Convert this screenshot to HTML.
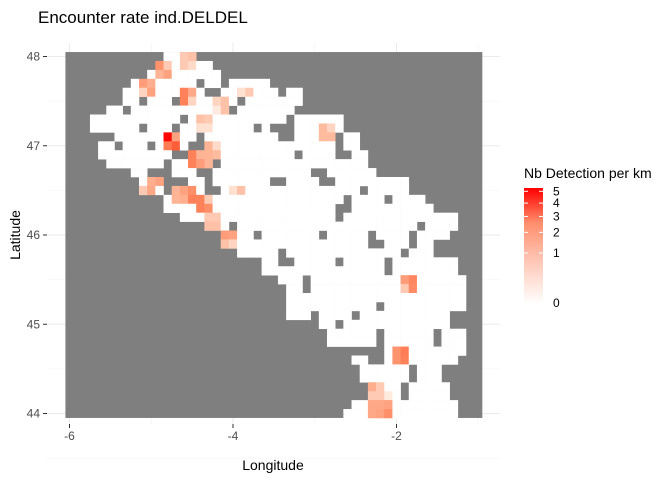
<!DOCTYPE html>
<html><head><meta charset="utf-8"><style>
body{margin:0;background:#fff;font-family:"Liberation Sans",sans-serif;}
</style></head><body>
<svg id="chart" width="672" height="480" xmlns="http://www.w3.org/2000/svg">
<text x="38" y="23" font-size="17" fill="#000">Encounter rate ind.DELDEL</text>
<g id="grid"></g>
<g id="cells"></g>
<g id="axes"></g>
<text x="273" y="470" font-size="14" text-anchor="middle">Longitude</text>
<text x="20" y="235" font-size="14" text-anchor="middle" transform="rotate(-90 20 235)">Latitude</text>
<g id="legend">
<text x="524" y="178" font-size="14">Nb Detection per km</text>
<defs><linearGradient id="lg" x1="0" y1="1" x2="0" y2="0">
<stop offset="0" stop-color="#fff"/><stop offset="0.4" stop-color="#ffc2b0"/><stop offset="0.7" stop-color="#ff8e6c"/><stop offset="1" stop-color="#ff0000"/></linearGradient></defs>
<rect x="524" y="188" width="19" height="116" fill="url(#lg)"/>
</g>
</svg>
<script>
// grid: cols lon = -6 + 0.1*c, rows lat = 48 - 0.1*r
const rowSpans=[[12,15],[11,17],[10,18],[8,24],[7,28],[7,28],[5,27],[3,33],[3,33],[6,35],[4,35],[4,36],[5,36],[8,37],[9,41],[9,41],[12,43],[12,44],[14,47],[17,47],[19,46],[19,44],[21,44],[24,47],[24,47],[26,48],[27,48],[27,48],[27,48],[27,46],[31,46],[32,48],[32,48],[39,48],[35,47],[36,45],[36,45],[37,46],[37,46],[35,47],[34,47]];
const holes={3:[16,19],4:[17,18,26],5:[9,13,21],6:[7,20],7:[14,27],8:[9,13,23,25,26,27],9:[16,26,27,33],10:[6,10,15,16,33],11:[13,14,28,33,34],12:[12,18],13:[10,11,12,16,17,30,31],14:[12,13,14,17,25,26,31,32],15:[12,17,18,36],16:[34,39],17:[33,34],18:[33],19:[20,43],20:[23,31,37,42],21:[37,38,42],22:[26,41],23:[26,27,33,39],24:[39],25:[29],26:[29],28:[38],29:[30,35],30:[33],31:[38,45],32:[38,45],34:[37,38],35:[42],36:[42],37:[41],38:[41]};
const detections=[[0,14,0.3],[0,15,0.4],[1,11,1.2],[1,12,0.3],[1,14,0.3],[1,15,0.15],[2,11,0.6],[2,12,0.9],[3,9,1.0],[3,10,0.7],[4,9,0.2],[4,10,0.9],[4,14,1.6],[4,15,0.8],[4,21,0.1],[4,22,0.3],[5,14,1.6],[5,15,0.2],[5,18,0.2],[5,19,0.4],[6,18,0.05],[6,19,0.4],[7,16,0.4],[7,17,0.3],[8,16,0.1],[8,17,0.1],[9,12,5.2],[9,13,0.9],[10,12,1.8],[10,13,2.5],[10,17,0.6],[10,18,0.15],[11,15,1.6],[11,16,0.6],[11,17,0.6],[11,18,0.5],[12,15,1.6],[12,16,1.0],[12,17,0.6],[14,10,0.7],[14,11,0.9],[15,9,0.3],[15,10,0.8],[15,13,0.6],[15,14,0.9],[15,15,1.3],[15,20,0.1],[15,21,0.4],[16,13,0.6],[16,14,0.7],[16,15,1.6],[16,16,1.6],[16,17,0.3],[17,16,1.6],[17,17,1.3],[18,17,0.3],[18,18,0.3],[19,17,0.4],[19,18,0.4],[20,19,1.0],[20,20,0.9],[21,19,0.4],[21,20,0.2],[8,31,0.5],[8,32,0.2],[9,31,0.5],[9,32,0.5],[25,41,1.0],[25,42,1.5],[26,41,0.3],[26,42,1.4],[33,40,1.2],[33,41,1.7],[34,40,1.2],[34,41,1.6],[37,37,0.7],[37,38,0.3],[38,37,0.3],[38,38,0.3],[38,39,0.05],[39,37,0.8],[39,38,0.8],[39,39,0.9],[40,37,0.8],[40,38,0.9],[40,39,1.3]];
const xTicks=[-6,-4,-2];
const yTicks=[44,45,46,47,48];
const legendTicks=[0,1,2,3,4,5];
const NS="http://www.w3.org/2000/svg";
const xS=lon=>233+(lon+4)*81.75;
const yS=lat=>235-(lat-46)*89.25;
const vmax=5.3;
const lS=v=>303-Math.sqrt(v)/Math.sqrt(vmax)*115;
function col(v){const t=Math.min(1,Math.sqrt(v)/Math.sqrt(vmax));
 const g=Math.round(255*Math.pow(1-t,0.85)),b=Math.round(255*Math.pow(1-t,1.3));
 return `rgb(255,${g},${b})`;}
function mk(t,a,p){const e=document.createElementNS(NS,t);for(const k in a)e.setAttribute(k,a[k]);p.appendChild(e);return e;}
const grid=document.getElementById('grid');
for(let lon=-6;lon<=-1;lon+=1){const l=mk('line',{x1:xS(lon),x2:xS(lon),y1:43,y2:424,stroke:lon%2===0?'#ebebeb':'#f3f3f3','stroke-width':lon%2===0?1:0.6},grid);
 }
for(let lat=43.5;lat<=48;lat+=0.5){const l=mk('line',{x1:47,x2:500,y1:yS(lat),y2:yS(lat),stroke:lat%1===0?'#ebebeb':'#f3f3f3','stroke-width':lat%1===0?1:0.6},grid);
 }
const cells=document.getElementById('cells');
const dx=0.1*81.75, dy=0.1*89.25;
const bg=mk('rect',{x:xS(-6)-dx/2,y:yS(48)-dy/2,width:51*dx,height:41*dy,fill:'#7f7f7f'},cells);

const valMap={};detections.forEach(d=>valMap[d[0]+'_'+d[1]]=d[2]);
rowSpans.forEach((s,r)=>{const h=holes[r]||[];
 for(let c=s[0];c<=s[1];c++){if(h.includes(c))continue;
  const v=valMap[r+'_'+c]||0;
  const x=xS(-6+0.1*c)-dx/2,y=yS(48-0.1*r)-dy/2;
  const e=mk('rect',{x:x.toFixed(2),y:y.toFixed(2),width:(dx+0.3).toFixed(2),height:(dy+0.3).toFixed(2),fill:v>0?col(v):'#fff'},cells);
  
  }});
const axes=document.getElementById('axes');
xTicks.forEach(t=>{const l=mk('line',{x1:xS(t),x2:xS(t),y1:424,y2:428,stroke:'#333'},axes);
 
 const tx=mk('text',{x:xS(t),y:440,'font-size':12,fill:'#4d4d4d','text-anchor':'middle'},axes);tx.textContent=t;
 });
yTicks.forEach(t=>{const l=mk('line',{x1:43,x2:47,y1:yS(t),y2:yS(t),stroke:'#333'},axes);
 
 const tx=mk('text',{x:40,y:yS(t)+4,'font-size':12,fill:'#4d4d4d','text-anchor':'end'},axes);tx.textContent=t;
 });
const leg=document.getElementById('legend');
legendTicks.forEach(t=>{const y=lS(t);
 const a=mk('line',{x1:524,x2:528,y1:y,y2:y,stroke:'#fff'},leg);
 const b=mk('line',{x1:539,x2:543,y1:y,y2:y,stroke:'#fff'},leg);
 const tx=mk('text',{x:553,y:y+4,'font-size':12,fill:'#000'},leg);tx.textContent=t;
 });
</script>
</body></html>
